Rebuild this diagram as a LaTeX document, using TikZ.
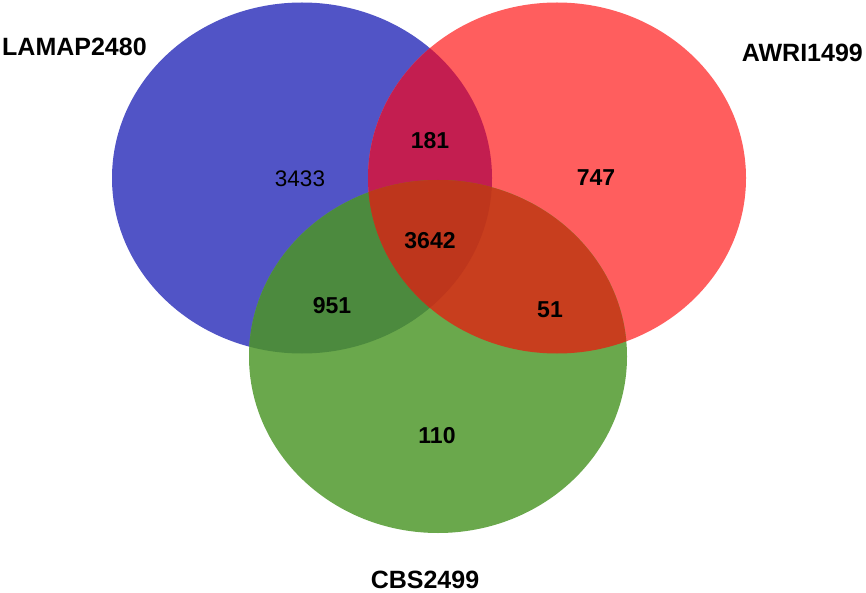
\documentclass[tikz,border=0pt]{standalone}
\usepackage{fontspec}
\setmainfont{Liberation Sans}
\definecolor{cblue}{RGB}{81,84,198}
\definecolor{cred}{RGB}{255,94,94}
\definecolor{cgreen}{RGB}{106,168,76}
\definecolor{cbr}{RGB}{195,30,80}
\definecolor{cbg}{RGB}{76,138,62}
\definecolor{crg}{RGB}{200,62,30}
\definecolor{cbrg}{RGB}{190,54,28}
\tikzset{
  setlbl/.style={font=\fontsize{25}{30}\selectfont\bfseries, inner sep=0pt},
  numlbl/.style={font=\fontsize{23}{28}\selectfont\bfseries, inner sep=0pt},
  numreg/.style={font=\fontsize{22.5}{27}\selectfont, inner sep=0pt}
}
\begin{document}
\begin{tikzpicture}[x=1pt,y=-1pt]
\useasboundingbox (0,0) rectangle (866,593);
\def\blueE{(302,178) ellipse [x radius=190pt, y radius=175.5pt]}
\def\redE{(557,178) ellipse [x radius=189pt, y radius=175.5pt]}
\def\greenE{(438,356.5) ellipse [x radius=189pt, y radius=176.5pt]}
% single sets
\fill[cblue] \blueE;
\fill[cred] \redE;
\fill[cgreen] \greenE;
% pairwise overlaps
\begin{scope}
  \clip \blueE;
  \fill[cbr] \redE;
\end{scope}
\begin{scope}
  \clip \blueE;
  \fill[cbg] \greenE;
\end{scope}
\begin{scope}
  \clip \redE;
  \fill[crg] \greenE;
\end{scope}
% triple overlap
\begin{scope}
  \clip \blueE;
  \clip \redE;
  \fill[cbrg] \greenE;
\end{scope}
% set labels
\node[setlbl, anchor=west] (lamap) at (2,47) {LAMAP2480};
\node[setlbl, anchor=east] (awri) at (863,53) {AWRI1499};
\node[setlbl] (cbs) at (425,580) {CBS2499};
% counts
\node[numreg] (n3433) at (300,179) {3433};
\node[numlbl] (n181) at (430,141) {181};
\node[numlbl] (n747) at (596,178) {747};
\node[numlbl] (n3642) at (430,241) {3642};
\node[numlbl] (n951) at (332,306) {951};
\node[numlbl] (n51) at (550,310) {51};
\node[numlbl] (n110) at (437,436) {110};
\end{tikzpicture}
\end{document}
